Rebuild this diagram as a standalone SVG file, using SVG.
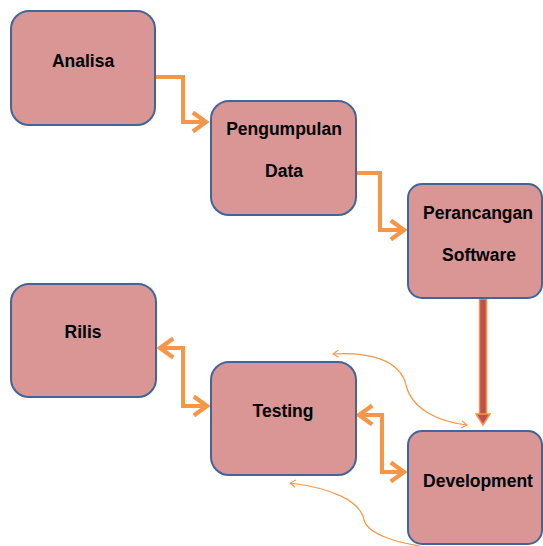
<svg xmlns="http://www.w3.org/2000/svg" width="543" height="546" viewBox="0 0 543 546">
<style>
.box{fill:#d99694;stroke:#41659a;stroke-width:2}
.lbl{font-family:"Liberation Sans",Arial,sans-serif;font-weight:bold;font-size:17.5px;fill:#000;text-anchor:middle}
.arr{fill:none;stroke:#f79646;stroke-width:4;stroke-linejoin:miter}
.thin{fill:none;stroke:#f79646;stroke-width:1.2}
</style>
<defs>
<marker id="ah" viewBox="0 0 10 10" refX="8" refY="5" markerWidth="6" markerHeight="6" orient="auto-start-reverse">
<polyline points="2.5,1 8,5 2.5,9" fill="none" stroke="#f79646" stroke-width="1.8"/>
</marker>
<marker id="ahthin" viewBox="0 0 10 10" refX="9" refY="5" markerWidth="9" markerHeight="9" orient="auto-start-reverse" markerUnits="userSpaceOnUse">
<polyline points="3,1 9,5 3,9" fill="none" stroke="#f79646" stroke-width="1.2"/>
</marker>
</defs>
<g id="connectors">
<path class="arr" d="M156 77 H183 V122 H206" marker-end="url(#ah)"/>
<path class="arr" d="M357 173 H380 V230 H404" marker-end="url(#ah)"/>
<path class="arr" d="M160 348 H183 V406 H207" marker-start="url(#ah)" marker-end="url(#ah)"/>
<path class="arr" d="M359 415 H382 V472 H404" marker-start="url(#ah)" marker-end="url(#ah)"/>
<g id="down-arrow">
<rect x="479.5" y="299" width="7" height="116" fill="#c0504d" stroke="#f79646" stroke-width="1.5"/>
<polygon points="476,414 490,414 483,425" fill="#c0504d" stroke="#f79646" stroke-width="1.5"/>
</g>
<path class="thin" d="M333 354 C370 352 400 360 406 385 C412 410 440 422 467 425" marker-start="url(#ahthin)" marker-end="url(#ahthin)"/>
<path class="thin" d="M290 483 C330 488 360 500 364 520 C368 535 400 543 420 546" marker-start="url(#ahthin)"/>
</g>
<g id="analisa"><rect class="box" x="11" y="11" width="144" height="114" rx="18"/><text class="lbl" x="83" y="67">Analisa</text></g>
<g id="pengumpulan"><rect class="box" x="211" y="101" width="145" height="114" rx="18"/><text class="lbl" x="284" y="135">Pengumpulan</text><text class="lbl" x="284" y="177">Data</text></g>
<g id="perancangan"><rect class="box" x="408" y="184" width="134" height="114" rx="14"/><text class="lbl" x="478" y="219">Perancangan</text><text class="lbl" x="479" y="261">Software</text></g>
<g id="rilis"><rect class="box" x="11" y="284" width="145" height="113" rx="18"/><text class="lbl" x="83" y="338">Rilis</text></g>
<g id="testing"><rect class="box" x="211" y="362" width="145" height="113" rx="18"/><text class="lbl" x="283" y="417">Testing</text></g>
<g id="development"><rect class="box" x="408" y="431" width="134" height="113" rx="14"/><text class="lbl" x="478" y="487">Development</text></g>
</svg>
